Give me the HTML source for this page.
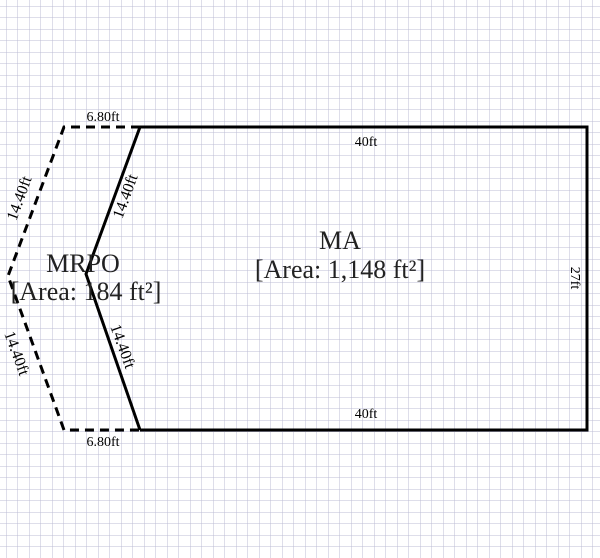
<!DOCTYPE html>
<html><head><style>html,body{margin:0;padding:0;background:#fff;}svg{display:block}</style></head>
<body>
<svg width="600" height="558" viewBox="0 0 600 558" xmlns="http://www.w3.org/2000/svg" font-family="Liberation Serif, serif">
<defs>
<pattern id="g" x="6" y="6" width="11.5" height="11.5" patternUnits="userSpaceOnUse">
<path d="M0 0 H11.5 M0 0 V11.5" stroke="#bcbcd4" stroke-width="1" fill="none"/>
</pattern>
</defs>
<rect width="600" height="558" fill="#fff"/>
<rect width="600" height="558" fill="url(#g)"/>
<g stroke="#000" stroke-width="3" fill="none">
<polyline points="140,127 587,127 587,430 140,430"/>
<polyline points="140,127 86,274 140,430"/>
<polyline points="140,127 64,127 8,276 64,430 140,430" stroke-dasharray="9,6"/>
</g>
<g font-size="14" fill="#000" text-anchor="middle">
<text x="103" y="121">6.80ft</text>
<text x="103" y="446">6.80ft</text>
<text x="366" y="146">40ft</text>
<text x="366" y="418">40ft</text>
<text transform="translate(571,278) rotate(90)">27ft</text>
</g>
<g font-size="16" fill="#000" text-anchor="middle">
<text transform="translate(24,200) rotate(-70)">14.40ft</text>
<text transform="translate(130,198) rotate(-70)">14.40ft</text>
<text transform="translate(12,355) rotate(70)">14.40ft</text>
<text transform="translate(118,348) rotate(70)">14.40ft</text>
</g>
<g font-size="26" fill="#222" text-anchor="middle">
<text x="83" y="272">MRPO</text>
<text x="86" y="300">[Area: 184 ft²]</text>
<text x="340" y="249">MA</text>
<text x="340" y="278">[Area: 1,148 ft²]</text>
</g>
</svg>
</body></html>
